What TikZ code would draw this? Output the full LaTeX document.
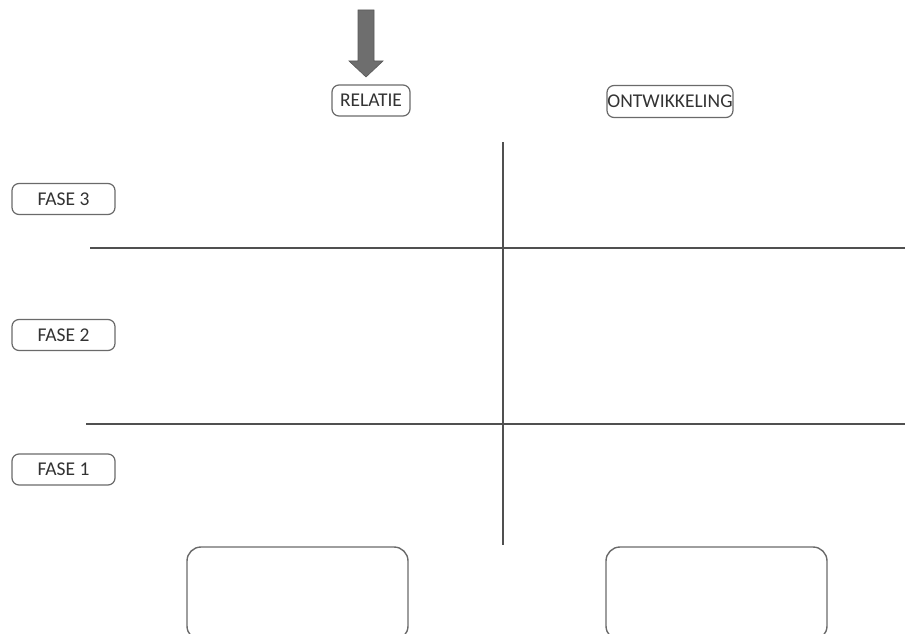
\documentclass[tikz,border=0pt]{standalone}
\usepackage{fontspec}
\setmainfont{Carlito}
\definecolor{linegray}{HTML}{505050}
\definecolor{boxgray}{HTML}{6A6A6A}
\definecolor{textgray}{HTML}{333333}
\definecolor{arrowgray}{HTML}{6E6E6E}
\begin{document}
\begin{tikzpicture}[x=1pt,y=-1pt,
  label box/.style={draw=boxgray,line width=1.2pt,rounded corners=7pt,fill=white,
    text=textgray,font=\fontsize{19.5}{22}\selectfont,inner sep=0pt},
  big box/.style={draw=boxgray,line width=1.4pt,rounded corners=14pt,fill=white},
  grid line/.style={draw=linegray,line width=1.1pt}]
\useasboundingbox (0,0) rectangle (905,634);
% column headers
\node[label box,minimum width=78pt,minimum height=31pt] (rel) at (371,100.5) {RELATIE};
\node[label box,minimum width=126pt,minimum height=32pt] (ont) at (670,101.5) {ONTWIKKELING};
% phase labels
\node[label box,minimum width=103pt,minimum height=31pt] (f3) at (63.5,199) {FASE 3};
\node[label box,minimum width=103pt,minimum height=31pt] (f2) at (63.5,335) {FASE 2};
\node[label box,minimum width=103pt,minimum height=31pt] (f1) at (63.5,469.5) {FASE 1};
% arrow pointing at the first column
\fill[arrowgray,draw=arrowgray!80!black,line width=0.6pt]
  (358,10) -- (374,10) -- (374,61) -- (383,61) -- (366,77) -- (349,61) -- (358,61) -- cycle;
% grid
\coordinate (vtop) at (503,142);
\coordinate (vbot) at (503,545);
\coordinate (h1a) at (90,248);
\coordinate (h1b) at (905,248);
\coordinate (h2a) at (86,424);
\coordinate (h2b) at (905,424);
\draw[grid line] (vtop) -- (vbot);
\draw[grid line] (h1a) -- (h1b);
\draw[grid line] (h2a) -- (h2b);
% empty answer boxes at the bottom
\draw[big box] (187,547) rectangle (408,640);
\draw[big box] (606,547) rectangle (827,640);
\end{tikzpicture}
\end{document}
